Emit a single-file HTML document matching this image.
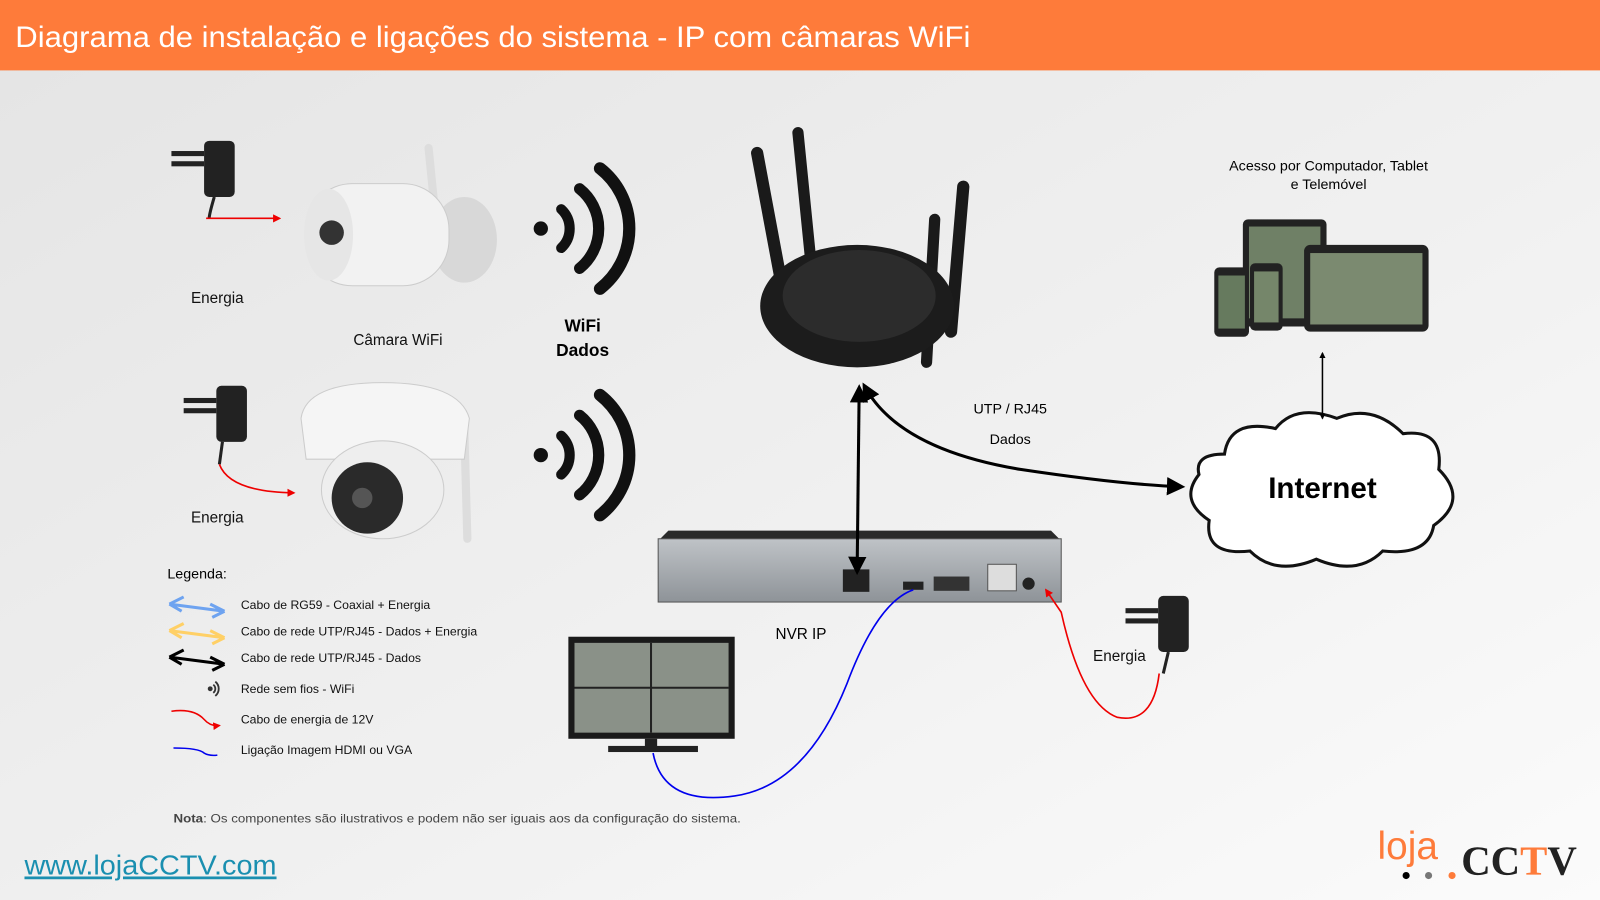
<!DOCTYPE html>
<html><head><meta charset="utf-8"><style>
html,body{margin:0;padding:0;width:1600px;height:900px;overflow:hidden;background:#eee}
svg{display:block}
text{font-family:"Liberation Sans",Arial,sans-serif}
</style></head><body>
<svg width="1600" height="900" viewBox="0 0 1568 882" xmlns="http://www.w3.org/2000/svg">
<defs>
<linearGradient id="bg" x1="0" y1="0" x2="1" y2="1"><stop offset="0" stop-color="#e4e4e4"/><stop offset="0.6" stop-color="#f1f1f1"/><stop offset="1" stop-color="#fbfbfb"/></linearGradient>
<linearGradient id="nvr" x1="0" y1="0" x2="0" y2="1"><stop offset="0" stop-color="#bfc3c7"/><stop offset="1" stop-color="#8e9398"/></linearGradient>
<marker id="ab" viewBox="0 0 10 10" refX="8" refY="5" markerWidth="6" markerHeight="6" orient="auto-start-reverse"><path d="M0,0 L10,5 L0,10 z" fill="#000"/></marker>
<marker id="ar" viewBox="0 0 10 10" refX="8" refY="5" markerWidth="5" markerHeight="5" orient="auto"><path d="M0,0 L10,5 L0,10 z" fill="#e00"/></marker>
<marker id="as" viewBox="0 0 10 10" refX="8" refY="5" markerWidth="4" markerHeight="4" orient="auto-start-reverse"><path d="M0,0 L10,5 L0,10 z" fill="#000"/></marker>
</defs>
<rect width="1568" height="882" fill="url(#bg)"/>
<rect width="1568" height="69" fill="#fe7b3a"/>
<text x="15" y="46" font-size="29" fill="#fff" textLength="936" lengthAdjust="spacingAndGlyphs">Diagrama de instalação e ligações do sistema - IP com câmaras WiFi</text>

<!-- power adapters -->
<g fill="#222"><rect x="200" y="138" width="30" height="55" rx="5"/><rect x="168" y="148" width="32" height="5"/><rect x="168" y="158" width="32" height="5"/></g>
<path d="M210,193 Q205,210 205,214" stroke="#222" stroke-width="3" fill="none"/>
<line x1="202" y1="214" x2="274" y2="214" stroke="#e00" stroke-width="1.6" marker-end="url(#ar)"/>
<g fill="#222"><rect x="212" y="378" width="30" height="55" rx="5"/><rect x="180" y="390" width="32" height="5"/><rect x="180" y="400" width="32" height="5"/></g>
<path d="M218,433 L215,455" stroke="#222" stroke-width="3" fill="none"/>
<path d="M215,455 Q225,482 288,483" stroke="#e00" stroke-width="1.6" fill="none" marker-end="url(#ar)"/>
<g fill="#222"><rect x="1135" y="584" width="30" height="55" rx="5"/><rect x="1103" y="596" width="32" height="5"/><rect x="1103" y="606" width="32" height="5"/></g>
<path d="M1145,639 L1140,660" stroke="#222" stroke-width="3"/>

<text x="213" y="297" font-size="15" text-anchor="middle" fill="#111">Energia</text>
<text x="213" y="512" font-size="15" text-anchor="middle" fill="#111">Energia</text>
<text x="1097" y="648" font-size="15" text-anchor="middle" fill="#111">Energia</text>

<!-- bullet camera -->
<line x1="420" y1="145" x2="428" y2="225" stroke="#ddd" stroke-width="8" stroke-linecap="round"/>
<ellipse cx="455" cy="235" rx="32" ry="42" fill="#d8d8d8"/>
<rect x="300" y="180" width="140" height="100" rx="45" fill="#f2f2f2" stroke="#ccc"/>
<ellipse cx="322" cy="230" rx="24" ry="45" fill="#e6e6e6"/>
<circle cx="325" cy="228" r="12" fill="#333"/>
<text x="390" y="338" font-size="15" text-anchor="middle" fill="#111">Câmara WiFi</text>
<!-- dome camera -->
<line x1="455" y1="420" x2="458" y2="528" stroke="#ddd" stroke-width="8" stroke-linecap="round"/>
<path d="M295,410 Q300,375 375,375 Q450,375 460,410 L455,450 L300,450 Z" fill="#f5f5f5" stroke="#ccc"/>
<ellipse cx="375" cy="480" rx="60" ry="48" fill="#eee" stroke="#ccc"/>
<ellipse cx="360" cy="488" rx="35" ry="35" fill="#2a2a2a"/>
<circle cx="355" cy="488" r="10" fill="#555"/>

<!-- wifi symbols -->
<g fill="none" stroke="#111" stroke-linecap="round">
<circle cx="530" cy="224" r="7" fill="#111" stroke="none"/>
<path d="M550,205 A26,26 0 0 1 550,243" stroke-width="10"/>
<path d="M568,185 A50,50 0 0 1 568,263" stroke-width="11"/>
<path d="M588,165 A75,75 0 0 1 588,283" stroke-width="12"/>
<circle cx="530" cy="446" r="7" fill="#111" stroke="none"/>
<path d="M550,427 A26,26 0 0 1 550,465" stroke-width="10"/>
<path d="M568,407 A50,50 0 0 1 568,485" stroke-width="11"/>
<path d="M588,387 A75,75 0 0 1 588,505" stroke-width="12"/>
</g>
<text x="571" y="325" font-size="17" font-weight="bold" text-anchor="middle">WiFi</text>
<text x="571" y="349" font-size="17" font-weight="bold" text-anchor="middle">Dados</text>

<!-- router -->
<g stroke="#1a1a1a" stroke-linecap="round">
<line x1="742" y1="150" x2="770" y2="300" stroke-width="12"/>
<line x1="782" y1="130" x2="795" y2="260" stroke-width="11"/>
<line x1="944" y1="183" x2="932" y2="325" stroke-width="12"/>
<line x1="916" y1="215" x2="908" y2="355" stroke-width="11"/>
</g>
<ellipse cx="840" cy="300" rx="95" ry="60" fill="#1c1c1c"/>
<ellipse cx="842" cy="290" rx="75" ry="45" fill="#2c2c2c"/>

<!-- devices -->
<rect x="1218" y="215" width="82" height="105" rx="5" fill="#222"/>
<rect x="1224" y="222" width="70" height="90" fill="#6f8066"/>
<rect x="1278" y="240" width="122" height="85" rx="6" fill="#222"/>
<rect x="1284" y="248" width="110" height="70" fill="#7b8a70"/>
<rect x="1190" y="262" width="34" height="68" rx="5" fill="#222"/>
<rect x="1194" y="270" width="26" height="52" fill="#667a5e"/>
<rect x="1225" y="258" width="32" height="66" rx="5" fill="#222"/>
<rect x="1229" y="266" width="24" height="50" fill="#75866a"/>
<text x="1302" y="167" font-size="14" text-anchor="middle">Acesso por Computador, Tablet</text>
<text x="1302" y="185" font-size="14" text-anchor="middle">e Telemóvel</text>

<!-- cloud -->
<path d="M1200,445 Q1205,410 1250,420 Q1270,395 1310,410 Q1345,395 1375,425 Q1415,420 1410,460 Q1440,490 1405,515 Q1400,545 1355,540 Q1330,565 1290,548 Q1250,565 1225,540 Q1180,545 1185,510 Q1155,490 1175,465 Q1170,445 1200,445 Z" fill="#fff" stroke="#111" stroke-width="3"/>
<text x="1296" y="488" font-size="29" font-weight="bold" text-anchor="middle">Internet</text>
<line x1="1296" y1="346" x2="1296" y2="410" stroke="#000" stroke-width="1.5" marker-start="url(#as)" marker-end="url(#as)"/>

<!-- NVR -->
<path d="M655,520 L1030,520 L1040,530 L645,530 Z" fill="#2a2a2a"/>
<rect x="645" y="528" width="395" height="62" fill="url(#nvr)" stroke="#555"/>
<rect x="826" y="558" width="26" height="22" fill="#222"/>
<rect x="915" y="565" width="35" height="14" fill="#333"/>
<rect x="968" y="553" width="28" height="26" fill="#ddd" stroke="#555"/>
<rect x="885" y="570" width="20" height="8" fill="#222"/>
<circle cx="1008" cy="572" r="6" fill="#222"/>
<text x="785" y="626" font-size="15" text-anchor="middle">NVR IP</text>

<!-- black connectors -->
<path d="M847,378 Q880,440 1000,460 Q1100,475 1158,477" stroke="#000" stroke-width="3" fill="none" marker-start="url(#ab)" marker-end="url(#ab)"/>
<line x1="842" y1="380" x2="840" y2="560" stroke="#000" stroke-width="3" marker-start="url(#ab)" marker-end="url(#ab)"/>
<text x="990" y="405" font-size="14" text-anchor="middle">UTP / RJ45</text>
<text x="990" y="435" font-size="14" text-anchor="middle">Dados</text>
<path d="M1136,660 Q1130,710 1095,703 Q1060,690 1040,600 L1025,578" stroke="#e00" stroke-width="1.6" fill="none" marker-end="url(#ar)"/>

<!-- monitor -->
<rect x="557" y="624" width="163" height="100" fill="#1a1a1a"/>
<rect x="563" y="630" width="151" height="88" fill="#8a9188"/>
<line x1="638" y1="630" x2="638" y2="718" stroke="#222" stroke-width="2"/>
<line x1="563" y1="674" x2="714" y2="674" stroke="#222" stroke-width="2"/>
<rect x="632" y="724" width="12" height="8" fill="#222"/>
<rect x="596" y="731" width="88" height="6" fill="#222"/>
<path d="M640,738 Q650,790 720,780 Q790,770 830,670 Q860,590 895,578" stroke="#0000ee" stroke-width="1.6" fill="none"/>

<!-- legend -->
<text x="164" y="567" font-size="14">Legenda:</text>
<g stroke-width="3" fill="none">
<path d="M166,592 L220,599 M166,592 L180,585 M166,592 L178,599 M220,599 L206,592 M220,599 L208,605" stroke="#6ea3f0"/>
<path d="M166,618 L220,625 M166,618 L180,611 M166,618 L178,625 M220,625 L206,618 M220,625 L208,631" stroke="#ffd066"/>
<path d="M166,644 L220,651 M166,644 L180,637 M166,644 L178,651 M220,651 L206,644 M220,651 L208,657" stroke="#000"/>
</g>
<g fill="none" stroke="#333" stroke-width="1.8"><circle cx="206" cy="675" r="1.5" fill="#333"/><path d="M209,671 A5,5 0 0 1 209,679"/><path d="M211,668 A9,9 0 0 1 211,682"/></g>
<path d="M168,697 Q190,694 200,705 Q206,712 215,711" stroke="#e00" stroke-width="1.5" fill="none" marker-end="url(#ar)"/>
<path d="M170,733 Q195,733 200,738 Q205,741 213,740" stroke="#00e" stroke-width="1.5" fill="none"/>
<g font-size="12" fill="#111">
<text x="236" y="597">Cabo de RG59 - Coaxial + Energia</text>
<text x="236" y="623">Cabo de rede UTP/RJ45 - Dados + Energia</text>
<text x="236" y="649">Cabo de rede UTP/RJ45 - Dados</text>
<text x="236" y="679">Rede sem fios - WiFi</text>
<text x="236" y="709">Cabo de energia de 12V</text>
<text x="236" y="739">Ligação Imagem HDMI ou VGA</text>
</g>
<text x="170" y="806" font-size="12" fill="#444" textLength="556" lengthAdjust="spacingAndGlyphs"><tspan font-weight="bold">Nota</tspan>: Os componentes são ilustrativos e podem não ser iguais aos da configuração do sistema.</text>
<text x="24" y="857" font-size="27" fill="#1a8fb0" text-decoration="underline" textLength="247" lengthAdjust="spacingAndGlyphs">www.lojaCCTV.com</text>

<!-- logo -->
<text x="1350" y="842" font-size="38" fill="#fe7b3a">loja</text>
<circle cx="1378" cy="858" r="3.5" fill="#000"/><circle cx="1400" cy="858" r="3.5" fill="#777"/><circle cx="1423" cy="858" r="3.5" fill="#fe7b3a"/>
<text x="1432" y="857" font-size="40" font-weight="bold" fill="#222" style="font-family:'Liberation Serif',serif">CC<tspan fill="#fe7b3a">T</tspan>V</text>
</svg>
</body></html>
